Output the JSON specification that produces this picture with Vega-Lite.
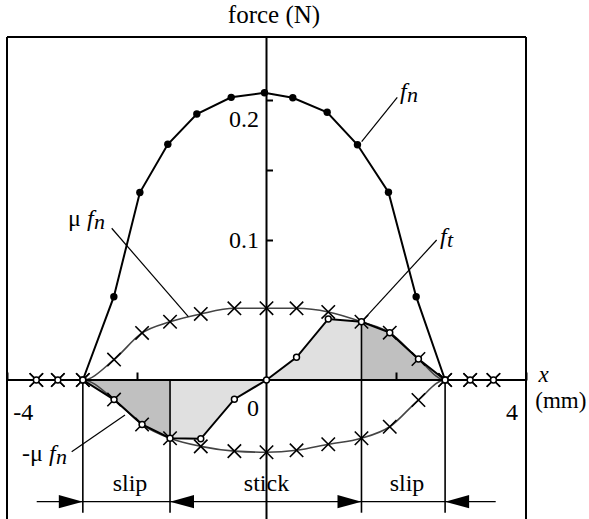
{
  "$schema": "https://vega.github.io/schema/vega-lite/v6.json",
  "width": 519,
  "height": 482,
  "autosize": "none",
  "padding": {"left": 7, "top": 37, "right": 63, "bottom": 0},
  "background": "white",
  "config": {"view": {"stroke": null}},
  "datasets": {
    "one": [{}],
    "fn": [
      {"x": -2.831, "fn": 0},
      {"x": -2.353, "fn": 0.0595},
      {"x": -1.952, "fn": 0.1339},
      {"x": -1.521, "fn": 0.1684},
      {"x": -1.074, "fn": 0.19},
      {"x": -0.544, "fn": 0.2019},
      {"x": -0.031, "fn": 0.2052},
      {"x": 0.405, "fn": 0.2016},
      {"x": 0.935, "fn": 0.1912},
      {"x": 1.402, "fn": 0.168},
      {"x": 1.88, "fn": 0.1341},
      {"x": 2.307, "fn": 0.0595},
      {"x": 2.753, "fn": 0}
    ],
    "pts": [
      {"x": -3.548, "mu": 0, "negmu": 0, "ft": 0},
      {"x": -3.216, "mu": 0, "negmu": 0, "ft": 0},
      {"x": -2.831, "mu": 0, "negmu": 0, "ft": 0},
      {"x": -2.35, "mu": 0.0146, "negmu": -0.014, "ft": -0.014},
      {"x": -1.918, "mu": 0.0336, "negmu": -0.0318, "ft": -0.0318},
      {"x": -1.487, "mu": 0.0416, "negmu": -0.0416, "ft": -0.0416},
      {"x": -1.013, "mu": 0.0472, "negmu": -0.0474, "ft": -0.042},
      {"x": -0.495, "mu": 0.0512, "negmu": -0.0508, "ft": -0.0137},
      {"x": 0, "mu": 0.0513, "negmu": -0.0516, "ft": 0},
      {"x": 0.463, "mu": 0.0512, "negmu": -0.0502, "ft": 0.0162},
      {"x": 0.952, "mu": 0.0486, "negmu": -0.0459, "ft": 0.0436},
      {"x": 1.464, "mu": 0.0416, "negmu": -0.0416, "ft": 0.0416},
      {"x": 1.9, "mu": 0.0338, "negmu": -0.0334, "ft": 0.0338},
      {"x": 2.342, "mu": 0.015, "negmu": -0.0143, "ft": 0.015},
      {"x": 2.753, "mu": 0, "negmu": 0, "ft": 0},
      {"x": 3.139, "mu": 0, "negmu": 0, "ft": 0},
      {"x": 3.498, "mu": 0, "negmu": 0, "ft": 0}
    ],
    "separators": [
      {"x": -2.831, "y": 0, "y2": -0.0948},
      {"x": -1.487, "y": 0, "y2": -0.0948},
      {"x": 1.464, "y": 0.0416, "y2": -0.0948},
      {"x": 2.753, "y": 0, "y2": -0.0948}
    ],
    "arrowline": [{"x": -3.542, "x2": 3.533, "y": -0.0869}],
    "arrowheads": [
      {"x": -2.831, "y": -0.0869, "dir": "right"},
      {"x": -1.487, "y": -0.0869, "dir": "left"},
      {"x": 1.464, "y": -0.0869, "dir": "right"},
      {"x": 2.753, "y": -0.0869, "dir": "left"}
    ],
    "leaders": [
      {"x": 1.467, "y": 0.1702, "x2": 2.016, "y2": 0.2019},
      {"x": -2.386, "y": 0.1084, "x2": -1.205, "y2": 0.0452},
      {"x": 2.623, "y": 0.1, "x2": 1.492, "y2": 0.0429},
      {"x": -3.003, "y": -0.0512, "x2": -2.181, "y2": -0.025}
    ],
    "labels": [
      {"x": 2.058, "y": 0.2007, "pre": "", "sub": "n"},
      {"x": -2.767, "y": 0.11, "pre": "μ", "sub": "n"},
      {"x": 2.674, "y": 0.0971, "pre": "", "sub": "t"},
      {"x": -3.353, "y": -0.0579, "pre": "-μ", "sub": "n"}
    ],
    "texts": [
      {"x": -3.749, "y": -0.0286, "t": "-4"},
      {"x": -0.208, "y": -0.0257, "t": "0"},
      {"x": 3.784, "y": -0.0286, "t": "4"},
      {"x": -0.347, "y": 0.0943, "t": "0.1"},
      {"x": -0.347, "y": 0.1809, "t": "0.2"},
      {"x": -2.104, "y": -0.0796, "t": "slip"},
      {"x": 0, "y": -0.0796, "t": "stick"},
      {"x": 2.166, "y": -0.0796, "t": "slip"}
    ],
    "unit": [{"x": 4.537, "y": -0.02, "t": "(mm)"}],
    "title": [{"x": 0.116, "y": 0.2548, "t": "force (N)"}],
    "xlabel": [{"x": 4.273, "y": -0.0014, "t": "x"}]
  },
  "layer": [
    {
      "data": {"name": "pts"},
      "transform": [{"filter": "datum.x >= -2.831 && datum.x <= -1.487"}],
      "mark": {"type": "area", "color": "#c0c0c0"},
      "encoding": {
        "x": {"field": "x", "type": "quantitative", "scale": {"domain": [-4, 4], "nice": false, "zero": false},
          "axis": {"orient": "bottom", "offset": -139, "values": [-4, -2, 2, 4], "tickSize": -8, "tickWidth": 2, "tickColor": "black", "domain": false, "labels": false, "grid": false, "title": null, "zindex": 1}},
        "y": {"field": "ft", "type": "quantitative", "scale": {"domain": [-0.09929, 0.245], "nice": false, "zero": false},
          "axis": {"orient": "left", "offset": -259.5, "values": [0.1, 0.15, 0.2], "tickSize": -6, "tickWidth": 2, "tickColor": "black", "domain": false, "labels": false, "grid": false, "title": null, "zindex": 1}},
        "y2": {"datum": 0}
      }
    },
    {
      "data": {"name": "pts"},
      "transform": [{"filter": "datum.x >= -1.487 && datum.x <= 1.464"}],
      "mark": {"type": "area", "color": "#e0e0e0"},
      "encoding": {
        "x": {"field": "x", "type": "quantitative"},
        "y": {"field": "ft", "type": "quantitative"},
        "y2": {"datum": 0}
      }
    },
    {
      "data": {"name": "pts"},
      "transform": [{"filter": "datum.x >= 1.464 && datum.x <= 2.753"}],
      "mark": {"type": "area", "color": "#c0c0c0"},
      "encoding": {
        "x": {"field": "x", "type": "quantitative"},
        "y": {"field": "ft", "type": "quantitative"},
        "y2": {"datum": 0}
      }
    },
    {
      "data": {"name": "pts"},
      "mark": {"type": "line", "color": "#444444", "strokeWidth": 1.6, "interpolate": "monotone"},
      "encoding": {
        "x": {"field": "x", "type": "quantitative"},
        "y": {"field": "mu", "type": "quantitative"}
      }
    },
    {
      "data": {"name": "pts"},
      "mark": {"type": "line", "color": "#444444", "strokeWidth": 1.6, "interpolate": "monotone"},
      "encoding": {
        "x": {"field": "x", "type": "quantitative"},
        "y": {"field": "negmu", "type": "quantitative"}
      }
    },
    {"data": {"name": "one"}, "mark": {"type": "rule", "color": "black", "strokeWidth": 2}, "encoding": {"x": {"datum": -4}}},
    {"data": {"name": "one"}, "mark": {"type": "rule", "color": "black", "strokeWidth": 2}, "encoding": {"x": {"datum": 4}}},
    {"data": {"name": "one"}, "mark": {"type": "rule", "color": "black", "strokeWidth": 2}, "encoding": {"y": {"datum": 0.245}}},
    {"data": {"name": "one"}, "mark": {"type": "rule", "color": "black", "strokeWidth": 2}, "encoding": {"y": {"datum": 0}}},
    {"data": {"name": "one"}, "mark": {"type": "rule", "color": "black", "strokeWidth": 2}, "encoding": {"x": {"datum": 0}}},
    {
      "data": {"name": "separators"},
      "mark": {"type": "rule", "color": "black", "strokeWidth": 1.6},
      "encoding": {
        "x": {"field": "x", "type": "quantitative"},
        "y": {"field": "y", "type": "quantitative"},
        "y2": {"field": "y2"}
      }
    },
    {
      "data": {"name": "arrowline"},
      "mark": {"type": "rule", "color": "black", "strokeWidth": 1.3},
      "encoding": {
        "x": {"field": "x", "type": "quantitative"},
        "x2": {"field": "x2"},
        "y": {"field": "y", "type": "quantitative"}
      }
    },
    {
      "data": {"name": "arrowheads"},
      "mark": {"type": "point", "filled": true, "color": "black", "opacity": 1, "size": 2304},
      "encoding": {
        "x": {"field": "x", "type": "quantitative"},
        "y": {"field": "y", "type": "quantitative"},
        "shape": {"field": "dir", "type": "nominal", "legend": null,
          "scale": {"domain": ["right", "left"], "range": ["M0,0L-1,-0.28L-1,0.28Z", "M0,0L1,-0.28L1,0.28Z"]}}
      }
    },
    {
      "data": {"name": "leaders"},
      "mark": {"type": "rule", "color": "black", "strokeWidth": 1.2},
      "encoding": {
        "x": {"field": "x", "type": "quantitative"},
        "y": {"field": "y", "type": "quantitative"},
        "x2": {"field": "x2"},
        "y2": {"field": "y2"}
      }
    },
    {
      "data": {"name": "fn"},
      "mark": {"type": "line", "color": "black", "strokeWidth": 2},
      "encoding": {
        "x": {"field": "x", "type": "quantitative"},
        "y": {"field": "fn", "type": "quantitative"}
      }
    },
    {
      "data": {"name": "pts"},
      "mark": {"type": "line", "color": "black", "strokeWidth": 2},
      "encoding": {
        "x": {"field": "x", "type": "quantitative"},
        "y": {"field": "ft", "type": "quantitative"}
      }
    },
    {
      "data": {"name": "pts"},
      "mark": {"type": "point", "shape": "M-1,-1L1,1M-1,1L1,-1", "filled": false, "color": "black", "strokeWidth": 1.6, "size": 180, "opacity": 1},
      "encoding": {
        "x": {"field": "x", "type": "quantitative"},
        "y": {"field": "mu", "type": "quantitative"}
      }
    },
    {
      "data": {"name": "pts"},
      "mark": {"type": "point", "shape": "M-1,-1L1,1M-1,1L1,-1", "filled": false, "color": "black", "strokeWidth": 1.6, "size": 180, "opacity": 1},
      "encoding": {
        "x": {"field": "x", "type": "quantitative"},
        "y": {"field": "negmu", "type": "quantitative"}
      }
    },
    {
      "data": {"name": "fn"},
      "mark": {"type": "point", "shape": "circle", "filled": true, "color": "black", "size": 55, "opacity": 1},
      "encoding": {
        "x": {"field": "x", "type": "quantitative"},
        "y": {"field": "fn", "type": "quantitative"}
      }
    },
    {
      "data": {"name": "pts"},
      "mark": {"type": "point", "shape": "circle", "fill": "white", "stroke": "black", "strokeWidth": 1.5, "size": 35, "opacity": 1},
      "encoding": {
        "x": {"field": "x", "type": "quantitative"},
        "y": {"field": "ft", "type": "quantitative"}
      }
    },
    {
      "data": {"name": "texts"},
      "mark": {"type": "text", "font": "Liberation Serif", "fontSize": 24, "align": "center", "baseline": "alphabetic", "color": "black"},
      "encoding": {
        "x": {"field": "x", "type": "quantitative"},
        "y": {"field": "y", "type": "quantitative"},
        "text": {"field": "t"}
      }
    },
    {
      "data": {"name": "unit"},
      "mark": {"type": "text", "font": "Liberation Serif", "fontSize": 23, "align": "center", "baseline": "alphabetic", "color": "black"},
      "encoding": {
        "x": {"field": "x", "type": "quantitative"},
        "y": {"field": "y", "type": "quantitative"},
        "text": {"field": "t"}
      }
    },
    {
      "data": {"name": "title"},
      "mark": {"type": "text", "font": "Liberation Serif", "fontSize": 25, "align": "center", "baseline": "alphabetic", "color": "black"},
      "encoding": {
        "x": {"field": "x", "type": "quantitative"},
        "y": {"field": "y", "type": "quantitative"},
        "text": {"field": "t"}
      }
    },
    {
      "data": {"name": "xlabel"},
      "mark": {"type": "text", "font": "Liberation Serif", "fontSize": 23, "fontStyle": "italic", "align": "center", "baseline": "alphabetic", "color": "black"},
      "encoding": {
        "x": {"field": "x", "type": "quantitative"},
        "y": {"field": "y", "type": "quantitative"},
        "text": {"field": "t"}
      }
    },
    {
      "data": {"name": "labels"},
      "mark": {"type": "text", "font": "Liberation Serif", "fontSize": 24, "align": "right", "baseline": "alphabetic", "dx": -6, "color": "black"},
      "encoding": {
        "x": {"field": "x", "type": "quantitative"},
        "y": {"field": "y", "type": "quantitative"},
        "text": {"field": "pre"}
      }
    },
    {
      "data": {"name": "labels"},
      "mark": {"type": "text", "font": "Liberation Serif", "fontSize": 24, "fontStyle": "italic", "align": "left", "baseline": "alphabetic", "color": "black"},
      "encoding": {
        "x": {"field": "x", "type": "quantitative"},
        "y": {"field": "y", "type": "quantitative"},
        "text": {"value": "f"}
      }
    },
    {
      "data": {"name": "labels"},
      "mark": {"type": "text", "font": "Liberation Serif", "fontSize": 22, "fontStyle": "italic", "align": "left", "baseline": "alphabetic", "dx": 7, "dy": 3, "color": "black"},
      "encoding": {
        "x": {"field": "x", "type": "quantitative"},
        "y": {"field": "y", "type": "quantitative"},
        "text": {"field": "sub"}
      }
    }
  ]
}
